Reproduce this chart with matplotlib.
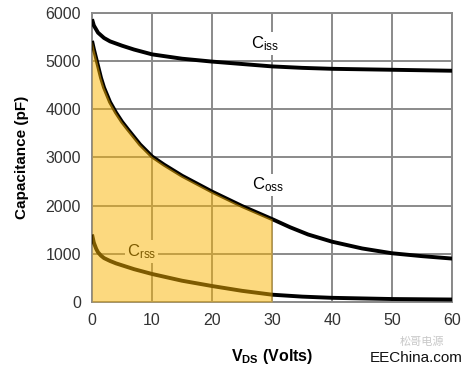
import numpy as np
import matplotlib
matplotlib.use('Agg')
import matplotlib.pyplot as plt

plt.rcParams['font.family'] = ['Liberation Sans', 'Noto Sans CJK SC', 'DejaVu Sans']
plt.rcParams['mathtext.default'] = 'regular'

# values (V_DS in volts, capacitance in pF)
v_ciss = [0, 0.3, 1, 2, 3, 5, 7, 10, 15, 20, 25, 30, 35, 40, 45, 50, 55, 60]
ciss = [5870, 5740, 5590, 5480, 5410, 5320, 5240, 5140, 5050, 4990, 4940, 4890, 4860, 4840, 4830, 4820, 4810, 4800]

v_coss = [0, 0.3, 0.7, 1, 1.5, 2, 3, 4, 5, 6, 8, 10, 12, 15, 20, 25, 30, 33, 36, 40, 45, 50, 55, 60]
coss = [5420, 5250, 5050, 4900, 4650, 4450, 4150, 3930, 3740, 3580, 3270, 3020, 2850, 2620, 2290, 1990, 1720, 1550, 1400, 1250, 1110, 1010, 950, 900]

v_crss = [0, 0.3, 0.7, 1, 1.5, 2, 3, 4, 5, 7, 10, 15, 20, 25, 30, 35, 40, 50, 60]
crss = [1400, 1230, 1100, 1030, 960, 910, 850, 800, 760, 680, 580, 440, 330, 230, 150, 110, 85, 60, 50]

fill_to = 30
grid_c = '#8a8a8a'

fig = plt.figure(figsize=(4.72, 3.70), dpi=100)
ax = fig.add_axes([0.195, 0.184, 0.763, 0.781])

ax.plot(v_ciss, ciss, color='black', lw=2.8, zorder=3, solid_capstyle='butt')
ax.plot(v_coss, coss, color='black', lw=2.8, zorder=3, solid_capstyle='butt')
ax.plot(v_crss, crss, color='black', lw=2.8, zorder=3, solid_capstyle='butt')

# shaded area under Coss from 0 to 30 V
vf = np.array([v for v in v_coss if v <= fill_to])
cf = np.array(coss[:len(vf)])
ax.fill_between(vf, 0, cf, color='#FAB400', alpha=0.5, lw=0, zorder=5)

lab = dict(fontsize=12, ha='center', va='center', zorder=4,
           bbox=dict(facecolor='white', edgecolor='none', pad=1.5))
ax.text(28.8, 5360, r'C$_{\mathregular{iss}}$', **lab)
ax.text(29.3, 2430, r'C$_{\mathregular{oss}}$', **lab)
ax.text(8.2, 1040, r'C$_{\mathregular{rss}}$', **lab)

ax.set_xlim(0, 60)
ax.set_ylim(0, 6000)
ax.set_xticks(range(0, 61, 10))
ax.set_yticks(range(0, 6001, 1000))
ax.grid(True, color=grid_c, lw=1.4, zorder=1)
ax.set_axisbelow(True)
for s in ax.spines.values():
    s.set_color(grid_c)
    s.set_linewidth(1.4)
ax.tick_params(length=0, labelsize=11.5, labelcolor='#333333', pad=8)

ax.set_ylabel('Capacitance (pF)', fontsize=11, fontweight='bold', labelpad=12)
ax.set_xlabel(r'V$_{\mathregular{DS}}$ (Volts)', fontsize=11.5, fontweight='bold', labelpad=14)

fig.text(0.94, 0.075, '松哥电源', fontsize=8, color='#c8c8c8', ha='right', va='center',
         family=['Noto Sans CJK SC', 'DejaVu Sans'])
fig.text(0.98, 0.032, 'EEChina.com', fontsize=11, color='#111111', ha='right', va='center')

fig.savefig('out.png', dpi=100)
